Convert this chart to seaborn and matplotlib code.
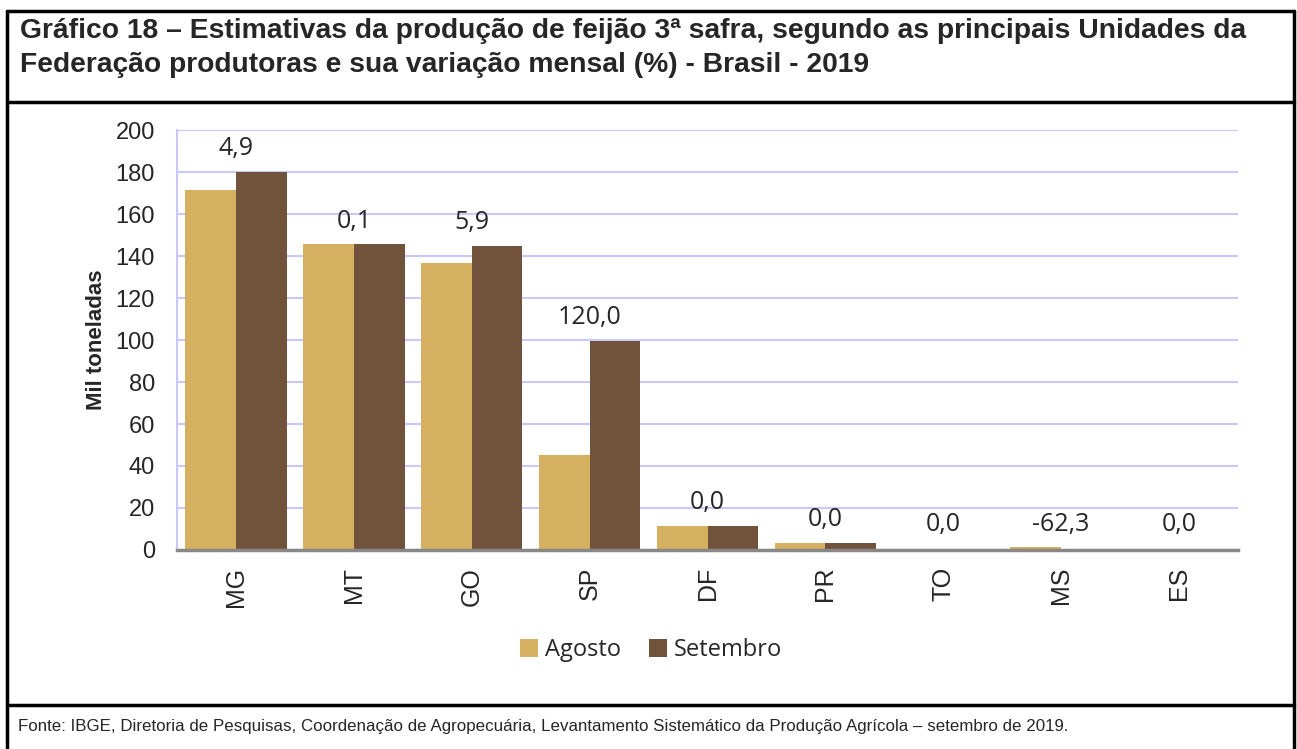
import pandas as pd
import numpy as np
import matplotlib.pyplot as plt
import seaborn as sns
from matplotlib.lines import Line2D
from matplotlib.patches import Patch

# Dados (mil toneladas)
ufs = ['MG', 'MT', 'GO', 'SP', 'DF', 'PR', 'TO', 'MS', 'ES']
agosto = [171.4, 145.6, 136.8, 45.2, 11.4, 3.5, 0.5, 1.3, 0.2]
setembro = [180.1, 145.6, 144.9, 99.5, 11.4, 3.5, 0.5, 0.5, 0.2]
variacao = ['4,9', '0,1', '5,9', '120,0', '0,0', '0,0', '0,0', '-62,3', '0,0']
meses = ['Agosto', 'Setembro']
cores = ['#D4B060', '#71523A']

df = pd.DataFrame({
    'uf': ufs * 2,
    'valor': agosto + setembro,
    'mes': [meses[0]] * len(ufs) + [meses[1]] * len(ufs),
})

sns.set_style('white')
plt.rcParams['font.family'] = ['Liberation Sans', 'DejaVu Sans']

fig = plt.figure(figsize=(12.97, 7.49), dpi=100)
ax = fig.add_axes([0.1365, 0.2657, 0.818, 0.5607])

sns.barplot(data=df, x='uf', y='valor', hue='mes', palette=cores, saturation=1,
            width=0.86, edgecolor='none', legend=False, ax=ax)

ax.set_ylim(0, 200)
ax.set_xlim(-0.5, len(ufs) - 0.5)
ax.set_yticks(np.arange(0, 201, 20))
ax.yaxis.grid(True, color='#C8C8FA', linewidth=1.5)
ax.set_axisbelow(True)
ax.tick_params(axis='y', labelsize=17, length=0, pad=16)
ax.tick_params(axis='x', which='major', labelsize=18, length=0, rotation=90, pad=12)
ax.set_xticks(np.arange(-0.5, len(ufs), 1), minor=True)
ax.tick_params(axis='x', which='minor', length=8, width=1.5, color='#888888', direction='out')
for s in ['top', 'right']:
    ax.spines[s].set_visible(False)
ax.spines['left'].set_color('#C8C8FA')
ax.spines['left'].set_linewidth(1.5)
ax.spines['bottom'].set_color('#888888')
ax.spines['bottom'].set_linewidth(2.5)
ax.set_xlabel('')
ax.set_ylabel('Mil toneladas', fontsize=16, fontweight='bold', labelpad=6)

# Rótulos de variação mensal
for i, txt in enumerate(variacao):
    y = max(max(agosto[i], setembro[i]) + 11, 12)
    ax.text(i, y, txt, ha='center', va='center', fontsize=18,
            family=['Open Sans', 'DejaVu Sans'])

# Legenda
handles = [Patch(facecolor=c, edgecolor='none') for c in cores]
fig.legend(handles, meses, loc='center', bbox_to_anchor=(0.502, 0.132),
           ncol=2, frameon=False, handlelength=0.75, handleheight=0.75,
           handletextpad=0.3, columnspacing=1.2,
           prop={'family': 'Open Sans', 'size': 17})

# Moldura
lw = 2.5
def fl(x, y):
    fig.add_artist(Line2D(x, y, color='black', linewidth=lw, transform=fig.transFigure))
X0, X1 = 7 / 1297, 1294 / 1297
fl([X0, X0], [0, 1 - 11 / 749])
fl([X1, X1], [0, 1 - 11 / 749])
fl([X0, X1], [1 - 11 / 749, 1 - 11 / 749])
fl([X0, X1], [1 - 102 / 749, 1 - 102 / 749])
fl([X0, X1], [1 - 705 / 749, 1 - 705 / 749])

titulo = ('Gráfico 18 – Estimativas da produção de feijão 3ª safra, segundo as principais Unidades da\n'
          'Federação produtoras e sua variação mensal (%) - Brasil - 2019')
fig.text(20 / 1297, 1 - 48 / 749, titulo, ha='left', va='center', fontsize=20.3,
         fontweight='bold', linespacing=1.4,
         family=['Liberation Sans Narrow', 'Liberation Sans', 'DejaVu Sans'])

fonte = ('Fonte: IBGE, Diretoria de Pesquisas, Coordenação de Agropecuária, Levantamento Sistemático '
         'da Produção Agrícola – setembro de 2019.')
fig.text(18 / 1297, 1 - 727 / 749, fonte, ha='left', va='center', fontsize=12.2,
         family=['Liberation Sans Narrow', 'Liberation Sans', 'DejaVu Sans'])

plt.savefig('out.png', dpi=100)
plt.close()
